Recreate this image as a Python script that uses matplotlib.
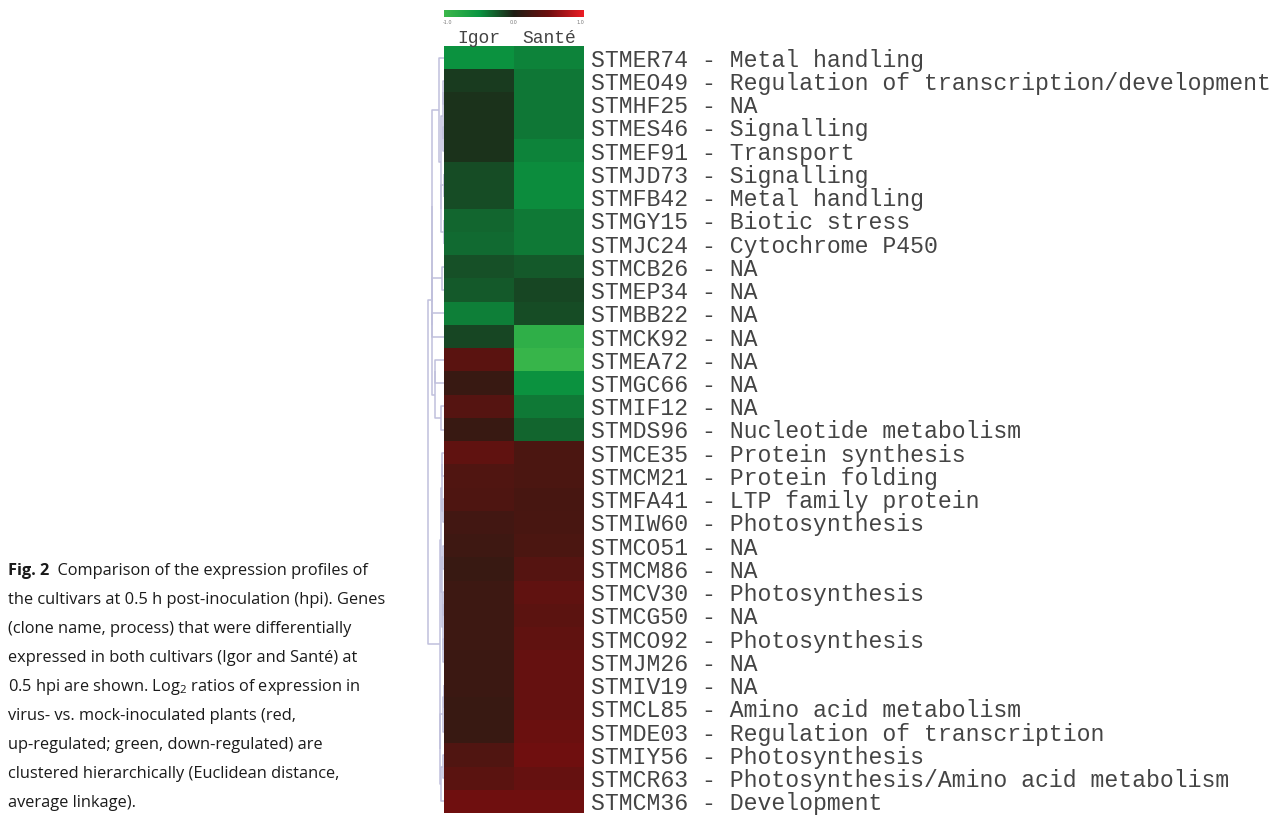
"""
Heatmap of log2 expression ratios (Igor vs Santé, 0.5 hpi) with dendrogram.
"""

import numpy as np
import matplotlib
matplotlib.use("Agg")
import matplotlib.pyplot as plt
from matplotlib.colors import LinearSegmentedColormap

# ---- data -------------------------------------------------------------
genes = ['STMER74', 'STMEO49', 'STMHF25', 'STMES46', 'STMEF91', 'STMJD73',
         'STMFB42', 'STMGY15', 'STMJC24', 'STMCB26', 'STMEP34', 'STMBB22',
         'STMCK92', 'STMEA72', 'STMGC66', 'STMIF12', 'STMDS96', 'STMCE35',
         'STMCM21', 'STMFA41', 'STMIW60', 'STMCO51', 'STMCM86', 'STMCV30',
         'STMCG50', 'STMCO92', 'STMJM26', 'STMIV19', 'STMCL85', 'STMDE03',
         'STMIY56', 'STMCR63', 'STMCM36']
processes = ['Metal handling', 'Regulation of transcription/development', 'NA',
             'Signalling', 'Transport', 'Signalling', 'Metal handling',
             'Biotic stress', 'Cytochrome P450', 'NA', 'NA', 'NA', 'NA', 'NA',
             'NA', 'NA', 'Nucleotide metabolism', 'Protein synthesis',
             'Protein folding', 'LTP family protein', 'Photosynthesis', 'NA',
             'NA', 'Photosynthesis', 'NA', 'Photosynthesis', 'NA', 'NA',
             'Amino acid metabolism', 'Regulation of transcription',
             'Photosynthesis', 'Photosynthesis/Amino acid metabolism',
             'Development']
cultivars = ['Igor', 'Santé']

# log2 ratios
igor = [-0.48, -0.12, -0.08, -0.08, -0.08, -0.19, -0.19, -0.30, -0.32, -0.21,
        -0.25, -0.40, -0.17, 0.37, 0.16, 0.34, 0.16, 0.41, 0.31, 0.30, 0.22,
        0.20, 0.16, 0.19, 0.19, 0.19, 0.18, 0.18, 0.16, 0.16, 0.31, 0.37, 0.50]
sante = [-0.42, -0.37, -0.37, -0.37, -0.42, -0.46, -0.46, -0.38, -0.38, -0.25,
         -0.17, -0.19, -0.87, -0.95, -0.48, -0.38, -0.29, 0.28, 0.28, 0.25,
         0.26, 0.28, 0.34, 0.41, 0.38, 0.41, 0.44, 0.44, 0.44, 0.47, 0.50,
         0.44, 0.50]

# cluster structure (nested row indices); heights come from the data
green = ((0, (((1, 2), (3, 4)), ((5, 6), (7, 8)))), ((9, 10), (11, 12)))
mixed = ((13, 14), (15, 16))
red = ((((17, 18), (19, 20)), ((21, 22), ((23, 24), (25, 26)))),
       (((27, 28), 29), ((30, 31), 32)))
tree = ((green, mixed), red)

caption = [
    "the cultivars at 0.5 h post-inoculation (hpi). Genes",
    "(clone name, process) that were differentially",
    "expressed in both cultivars (Igor and Santé) at",
    "0.5 hpi are shown. Log$_2$ ratios of expression in",
    "virus- vs. mock-inoculated plants (red,",
    "up-regulated; green, down-regulated) are",
    "clustered hierarchically (Euclidean distance,",
    "average linkage).",
]

# ---- style ------------------------------------------------------------
plt.rcParams['mathtext.fontset'] = 'custom'
plt.rcParams['mathtext.rm'] = 'Open Sans'
plt.rcParams['mathtext.it'] = 'Open Sans:italic'

cmap = LinearSegmentedColormap.from_list('gbr', [
    (0.0, (60/255, 184/255, 75/255)),
    (0.25, (10/255, 150/255, 65/255)),
    (0.5, (30/255, 30/255, 20/255)),
    (0.75, (110/255, 15/255, 15/255)),
    (1.0, (237/255, 28/255, 36/255)),
])

W, H = 1284, 817
fig = plt.figure(figsize=(W / 100, H / 100), dpi=100)


def px(x0, y0, x1, y1):
    return [x0 / W, 1 - y1 / H, (x1 - x0) / W, (y1 - y0) / H]


data = np.column_stack([igor, sante])
n = len(genes)
label_col = '#444444'

# ---- heatmap ----------------------------------------------------------
ax = fig.add_axes(px(444, 46, 584, 813))
ax.pcolormesh(np.arange(3), np.arange(n + 1), data, cmap=cmap,
              vmin=-1, vmax=1, edgecolors='none')
ax.set_xlim(0, 2)
ax.set_ylim(n, 0)
ax.yaxis.tick_right()
ax.set_yticks(np.arange(n) + 0.5)
ax.set_yticklabels([f"{g} - {p}" for g, p in zip(genes, processes)],
                   family='Liberation Mono', fontsize=16.7, color=label_col)
ax.tick_params(axis='y', length=0, pad=5)
ax.set_xticks([])
for s in ax.spines.values():
    s.set_visible(False)
for i, c in enumerate(cultivars):
    ax.text(i + 0.5, -0.13, c, ha='center', va='baseline',
            family='Liberation Mono', fontsize=13, color=label_col)

# ---- dendrogram (average linkage heights) -----------------------------
def leaves(node):
    if isinstance(node, int):
        return [node]
    return leaves(node[0]) + leaves(node[1])


def avg_dist(a, b):
    d = data[a][:, None, :] - data[b][None, :, :]
    return np.sqrt((d ** 2).sum(-1)).mean()


segs = []


def walk(node):
    # returns (position, height)
    if isinstance(node, int):
        return node + 0.5, 0.0
    p0, h0 = walk(node[0])
    p1, h1 = walk(node[1])
    h = max(avg_dist(leaves(node[0]), leaves(node[1])), h0, h1)
    segs.append(([h0, h, h, h1], [p0, p0, p1, p1]))
    return (p0 + p1) / 2, h


_, root_h = walk(tree)
dax = fig.add_axes(px(420, 46, 444, 813))
for xs, ys in segs:
    dax.plot(xs, ys, color='#c0c0dc', lw=1.1, solid_capstyle='butt')
dax.set_xlim(root_h * 24 / 16, 0)
dax.set_ylim(n, 0)
dax.axis('off')

# ---- colour scale -----------------------------------------------------
cax = fig.add_axes(px(444, 10, 584, 17))
cax.imshow(np.linspace(-1, 1, 256)[None, :], cmap=cmap, aspect='auto',
           extent=[-1, 1, 0, 1])
cax.axis('off')
for v, x in [(-1.0, 448), (0.0, 514), (1.0, 580)]:
    fig.text(x / W, 1 - 23 / H, f"{v:.1f}", ha='center', va='center',
             fontsize=3.5, color='#777777')

# ---- caption ----------------------------------------------------------
tax = fig.add_axes([0, 0, 1, 1])
tax.axis('off')
tax.set_xlim(0, W)
tax.set_ylim(H, 0)
cap_kw = dict(family='Open Sans', fontsize=11.8, color='#1a1a1a')
t1 = tax.text(8, 575, "Fig. 2", weight='bold', va='baseline', **cap_kw)
tax.annotate("  Comparison of the expression profiles of", xy=(1, 0),
             xycoords=t1, va='bottom', **cap_kw)
for k, line in enumerate(caption):
    tax.text(8, 604 + 29 * k, line, va='baseline', **cap_kw)

fig.savefig('out.png', dpi=100)
